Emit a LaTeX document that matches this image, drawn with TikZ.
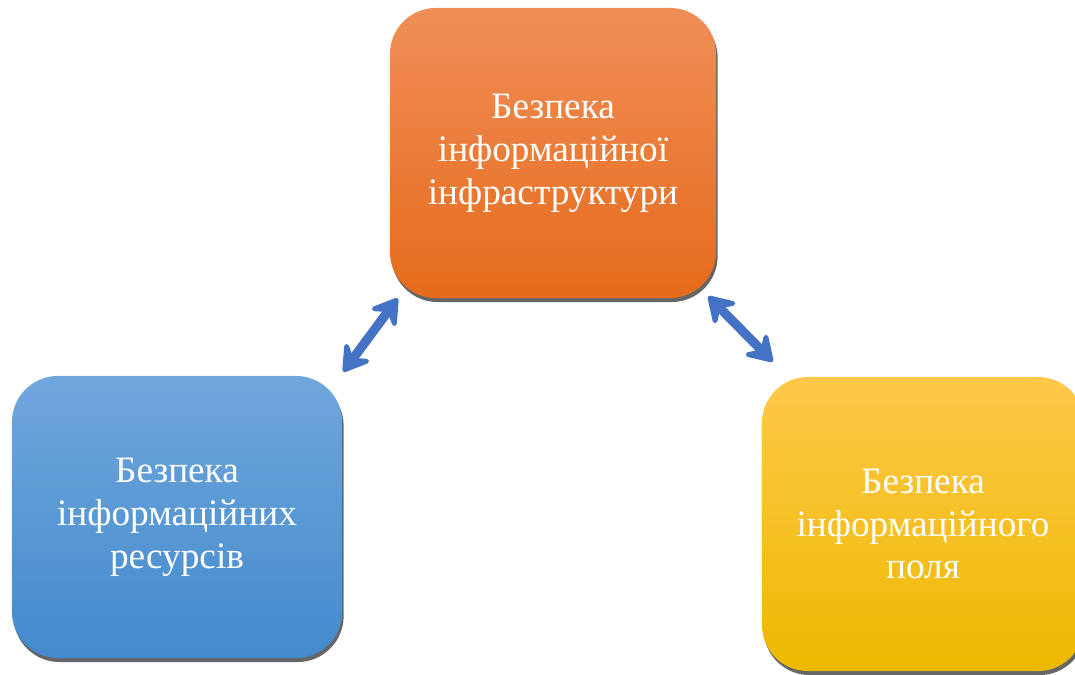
\documentclass[tikz,border=0pt]{standalone}
\usepackage{fontspec}
\setmainfont{Liberation Serif}
\usetikzlibrary{arrows.meta, positioning, shadows, calc}
\definecolor{orgtop}{HTML}{F08E58}
\definecolor{orgbot}{HTML}{E66B1B}
\definecolor{blutop}{HTML}{70A6DC}
\definecolor{blubot}{HTML}{438BCD}
\definecolor{yeltop}{HTML}{FFC84A}
\definecolor{yelbot}{HTML}{EDB900}
\definecolor{arrblue}{HTML}{4472C4}

\begin{document}
\begin{tikzpicture}[x=0.025cm, y=-0.025cm,
      every node/.style={font={\fontsize{26.5}{30.5}\selectfont}, align=center, text=white},
      box/.style={rectangle, rounded corners=1.15cm, minimum width=8.15cm, minimum height=7.25cm,
        drop shadow={shadow xshift=0.04cm, shadow yshift=-0.1cm, fill=black!60, opacity=1}},
      tip/.style={Stealth[round, length=0.8cm, width=1.0cm, inset=0.32cm]},
      arr/.style={{Stealth[round, length=0.8cm, width=1.0cm, inset=0.32cm]}-{Stealth[round, length=0.8cm, width=1.0cm, inset=0.32cm]},
        line width=0.23cm, draw=arrblue}
    ]
    \useasboundingbox (0,0) rectangle (1075,675);

    \node[box, top color=orgtop, bottom color=orgbot] (infra)
      at (553,153) {Безпека\\інформаційної\\інфраструктури};
    \node[box, top color=blutop, bottom color=blubot, minimum width=8.25cm, minimum height=7.05cm] (res)
      at (177,517) {Безпека\\інформаційних\\ресурсів};
    \node[box, top color=yeltop, bottom color=yelbot, minimum width=8.05cm, minimum height=7.35cm] (pole)
      at (923,524) {Безпека\\інформаційного\\поля};

    \draw[arr] ($(infra.south west)+(8,0)$) -- ($(res.north east)+(1,-4)$);
    \draw[arr] ($(infra.south east)+(-8,-2)$) -- ($(pole.north west)+(11,-15)$);
  \end{tikzpicture}
\end{document}
